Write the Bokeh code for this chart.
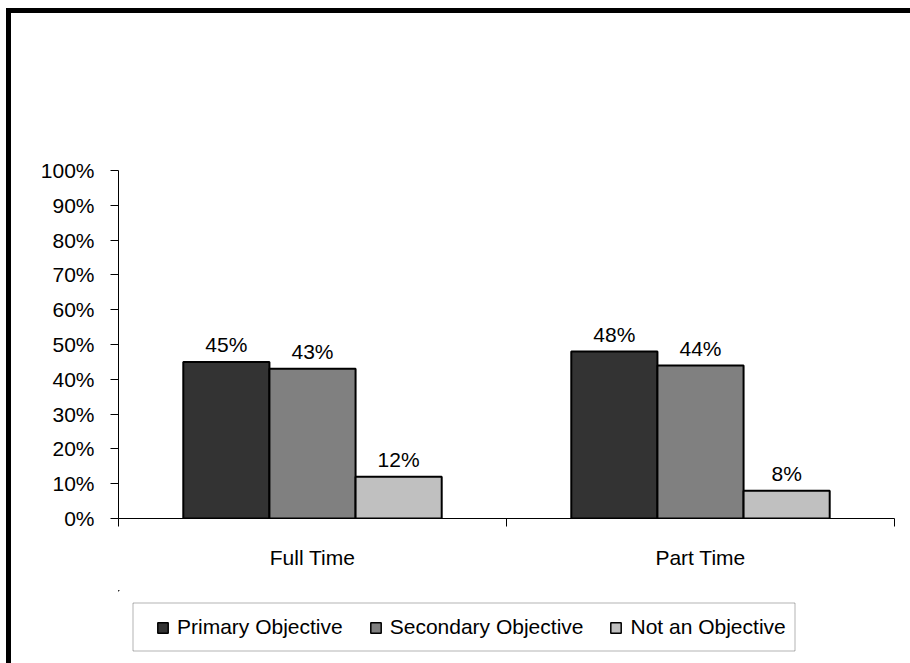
from bokeh.plotting import figure
from bokeh.layouts import column
from bokeh.models import (Range1d, LinearAxis, FixedTicker, NumeralTickFormatter,
                          ColumnDataSource, Legend, LegendItem, BoxAnnotation)
from bokeh.embed import file_html
from bokeh.resources import INLINE
from bokeh.core.properties import value

categories = ["Full Time", "Part Time"]
series_names = ["Primary Objective", "Secondary Objective", "Not an Objective"]
primary = [0.45, 0.48]
secondary = [0.43, 0.44]
not_objective = [0.12, 0.08]
series_values = [primary, secondary, not_objective]
series_colors = ["#333333", "#808080", "#C0C0C0"]
y_ticks = [0.0, 0.1, 0.2, 0.3, 0.4, 0.5, 0.6, 0.7, 0.8, 0.9, 1.0]

FONT = "Liberation Sans"
FS = "21px"
BAR_W = 0.222

# ---------------- main chart ----------------
p = figure(width=899, height=577, output_backend="svg", toolbar_location=None,
           x_range=Range1d(0, len(categories)), y_range=Range1d(0, 1),
           x_axis_location=None, y_axis_location=None,
           min_border_left=107, min_border_right=16,
           min_border_top=157, min_border_bottom=72)
p.grid.visible = False
p.outline_line_color = None
p.background_fill_color = "white"
p.border_fill_color = "white"

yaxis = LinearAxis(ticker=FixedTicker(ticks=y_ticks),
                   formatter=NumeralTickFormatter(format="0%"))
yaxis.axis_line_color = "black"
yaxis.major_tick_line_color = "black"
yaxis.major_tick_out = 8
yaxis.major_tick_in = 0
yaxis.minor_tick_line_color = None
yaxis.major_label_standoff = 16
yaxis.major_label_text_font = FONT
yaxis.major_label_text_font_size = FS
yaxis.major_label_text_color = "black"
p.add_layout(yaxis, "left")

bticks = list(range(len(categories) + 1))
xaxis_ticks = LinearAxis(ticker=FixedTicker(ticks=bticks))
xaxis_ticks.major_label_overrides = {t: "" for t in bticks}
xaxis_ticks.major_label_text_font_size = "0px"
xaxis_ticks.major_label_standoff = 0
xaxis_ticks.axis_line_color = "black"
xaxis_ticks.major_tick_line_color = "black"
xaxis_ticks.major_tick_out = 8
xaxis_ticks.major_tick_in = 0
xaxis_ticks.minor_tick_line_color = None
p.add_layout(xaxis_ticks, "below")

centers = [i + 0.5 for i in range(len(categories))]
xaxis_cat = LinearAxis(ticker=FixedTicker(ticks=centers))
xaxis_cat.major_label_overrides = {c: name for c, name in zip(centers, categories)}
xaxis_cat.axis_line_color = None
xaxis_cat.major_tick_line_color = None
xaxis_cat.minor_tick_line_color = None
xaxis_cat.major_label_standoff = 13
xaxis_cat.major_label_text_font = FONT
xaxis_cat.major_label_text_font_size = FS
xaxis_cat.major_label_text_color = "black"
p.add_layout(xaxis_cat, "below")

for i, (name, vals, col) in enumerate(zip(series_names, series_values, series_colors)):
    xs = [j + 0.5 + (i - 1) * BAR_W for j in range(len(categories))]
    src = ColumnDataSource(dict(x=xs, top=vals,
                                label=[f"{round(v * 100)}%" for v in vals]))
    p.vbar(x="x", top="top", width=BAR_W, bottom=0, source=src,
           fill_color=col, line_color="black", line_width=2)
    p.text(x="x", y="top", text="label", source=src,
           text_align="center", text_baseline="alphabetic", y_offset=-17,
           text_font=value(FONT), text_font_size=FS, text_color="black")

# ---------------- legend strip ----------------
# (ranges chosen so the swatch-source bars fall outside this strip's view)
q = figure(width=899, height=73, output_backend="svg", toolbar_location=None,
           x_range=Range1d(10, 11), y_range=Range1d(-11, -10),
           x_axis_location=None, y_axis_location=None,
           min_border_left=107, min_border_right=16,
           min_border_top=0, min_border_bottom=0)
q.grid.visible = False
q.outline_line_color = None
q.background_fill_color = "white"
q.border_fill_color = "white"

items = []
for i, (name, vals, col) in enumerate(zip(series_names, series_values, series_colors)):
    xs = [j + 0.5 + (i - 1) * BAR_W for j in range(len(categories))]
    r = q.vbar(x=xs, top=vals, width=BAR_W, bottom=vals,
               fill_color=col, line_color="black", line_width=1.5)
    items.append(LegendItem(label=name, renderers=[r]))

legend = Legend(items=items, orientation="horizontal", location=(38, 24),
                margin=0, glyph_width=13, glyph_height=13, label_standoff=8,
                spacing=26, padding=0,
                border_line_alpha=0, background_fill_alpha=0,
                label_text_font=FONT, label_text_font_size=FS,
                label_text_color="black")
q.add_layout(legend, "center")
q.add_layout(BoxAnnotation(left=121.5, right=783.5, top=12.5, bottom=60.5,
                           left_units="canvas", right_units="canvas",
                           top_units="canvas", bottom_units="canvas",
                           fill_alpha=0, line_color="black", line_width=1))

layout = column(p, q, spacing=0)
layout.styles = {"margin-left": "6px", "margin-top": "8px",
                 "border-left": "5px solid black", "border-top": "5px solid black"}

open("out.html", "w").write(file_html(layout, INLINE))
